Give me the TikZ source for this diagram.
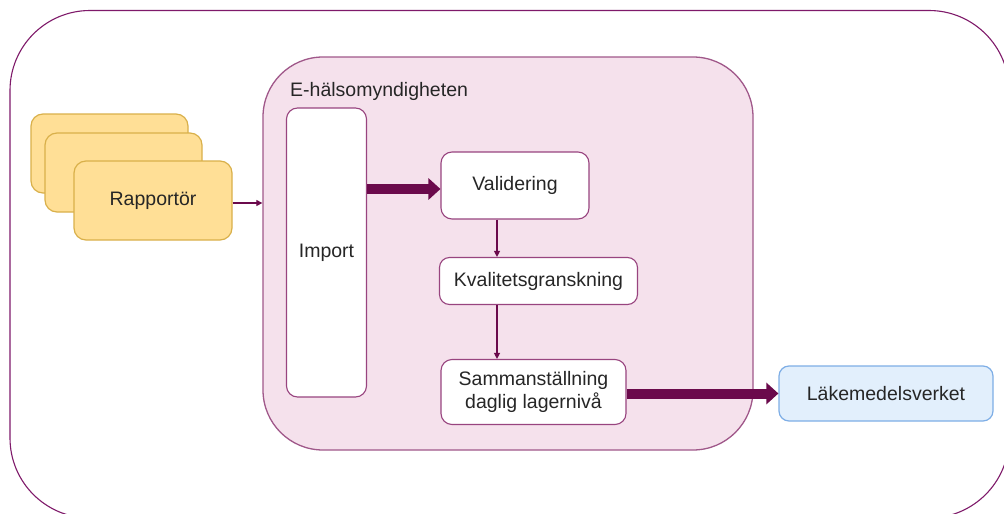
\documentclass[tikz,border=0pt]{standalone}
\usepackage{fontspec}
\setmainfont{Liberation Sans}
\usetikzlibrary{arrows.meta}
\definecolor{outerc}{HTML}{7F1A6A}
\definecolor{ehmfill}{HTML}{F5E1EC}
\definecolor{ehmdraw}{HTML}{A0588A}
\definecolor{boxdraw}{HTML}{98447F}
\definecolor{arrowc}{HTML}{6B0A4C}
\definecolor{yfill}{HTML}{FFDF96}
\definecolor{ydraw}{HTML}{D9B04A}
\definecolor{bfill}{HTML}{E2EFFC}
\definecolor{bdraw}{HTML}{7EAEE6}
\tikzset{
  txt/.style={font=\fontsize{19.5}{23.5}\selectfont, text=black!85, align=center},
  ybox/.style={txt, draw=ydraw, fill=yfill, line width=1.2pt, rounded corners=12pt, minimum width=157pt, minimum height=79pt, inner sep=0pt},
  wbox/.style={txt, draw=boxdraw, fill=white, line width=1.1pt, rounded corners=11pt, inner sep=0pt},
  thin/.style={draw=arrowc, line width=1.1pt, -{Triangle[width=6pt,length=6pt]}},
  thick/.style={draw=arrowc, line width=10pt, -{Triangle[width=21pt,length=12pt]}},
}
\begin{document}
\begin{tikzpicture}[x=1pt,y=-1pt]
\useasboundingbox (0,0) rectangle (1004,514);
\fill[white] (0,0) rectangle (1004,514);
% outer frame
\draw[outerc, line width=1.1pt, rounded corners=80pt] (10,10.5) rectangle (1009,518);
% E-halsomyndigheten container
\node[draw=ehmdraw, fill=ehmfill, line width=1.3pt, rounded corners=60pt, minimum width=490pt, minimum height=393pt, inner sep=0pt] (ehm) at (508,253.5) {};
\node[txt, anchor=west, inner sep=0pt] (ehmlabel) at (290,91) {E-hälsomyndigheten};
% reporters
\node[ybox] (rap3) at (109.5,153.5) {};
\node[ybox] (rap2) at (123.5,172.5) {};
\node[ybox, minimum width=158pt] (rap1) at (153,200.5) {Rapportör};
% inner boxes
\node[wbox, minimum width=80pt, minimum height=289pt] (imp) at (326.5,252.5) {Import};
\node[wbox, minimum width=148pt, minimum height=67pt] (val) at (515,185.5) {Validering};
\node[wbox, minimum width=198pt, minimum height=47pt, rounded corners=10pt] (kval) at (538.5,281) {Kvalitetsgranskning};
\node[wbox, minimum width=185pt, minimum height=65pt] (samm) at (533.5,392) {Sammanställning\\daglig lagernivå};
\node[txt, draw=bdraw, fill=bfill, line width=1.2pt, rounded corners=10pt, minimum width=214pt, minimum height=55pt, inner sep=0pt] (lak) at (886,393.5) {Läkemedelsverket};
\coordinate (vx) at (497,0);
% connectors
\draw[thin] ([yshift=-2.5pt]rap1.east) -- ([yshift=-2.5pt]rap1.east -| ehm.west);
\draw[thick] ([yshift=-3.5pt]val.west -| imp.east) -- ([yshift=-3.5pt]val.west);
\draw[thin] (val.south -| vx) -- (kval.north -| vx);
\draw[thin] (kval.south -| vx) -- (samm.north -| vx);
\draw[thick] (samm.east |- lak.west) -- (lak.west);
\end{tikzpicture}
\end{document}
